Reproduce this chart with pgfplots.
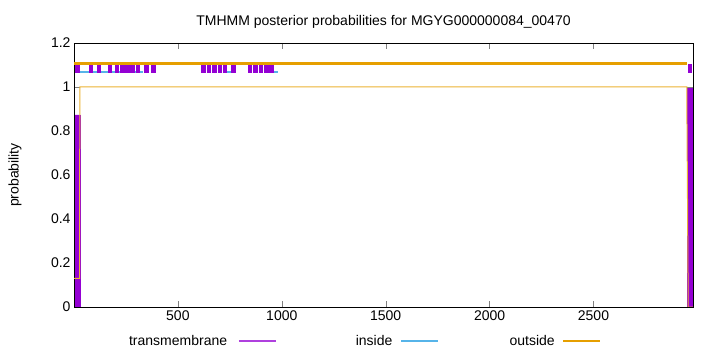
\documentclass[border=0pt]{standalone}
\usepackage{fontspec}
\setmainfont{Liberation Sans}
\usepackage{pgfplots}
\pgfplotsset{compat=1.18}
\definecolor{tm}{HTML}{9400D3}
\definecolor{inside}{HTML}{56B4E9}
\definecolor{outside}{HTML}{E69F00}
\begin{document}
\begin{tikzpicture}
\path[use as bounding box] (-74bp,-45bp) rectangle (646bp,307bp);
\begin{axis}[
  at={(0,0)}, anchor=south west,
  scale only axis, width=619bp, height=264bp,
  xmin=0, xmax=2979, ymin=0, ymax=1.2,
  xtick={500,1000,1500,2000,2500},
  ytick={0,0.2,0.4,0.6,0.8,1,1.2},
  yticklabels={0,0.2,0.4,0.6,0.8,1,1.2},
  /pgf/number format/1000 sep={},
  tick align=inside, major tick length=6bp,
  minor tick num=0,
  axis line style={black, line width=0.8bp},
  /pgf/number format/assume math mode=true,
  tick label style={font=\fontsize{14bp}{16bp}\selectfont},
  label style={font=\fontsize{14bp}{16bp}\selectfont},
  title style={font=\fontsize{14bp}{16bp}\selectfont, anchor=center, at={(axis description cs:0.5,1.057)}},
  title={TMHMM posterior probabilities for MGYG000000084\_00470},
  ylabel={probability},
  ylabel style={at={(axis description cs:-0.0953,0.5)}, anchor=center},
  unbounded coords=jump,
  legend columns=3,
  legend plot pos=right,
  legend cell align=right,
  legend image code/.code={\draw[#1] (0bp,0bp) -- (37bp,0bp);},
  legend style={draw=none, fill=none, font=\fontsize{14bp}{16bp}\selectfont,
    at={(axis description cs:0.4662,-0.129)}, anchor=center,
    /tikz/every even column/.append style={column sep=10bp}},
]
% top topology markers
\addplot[forget plot, inside, line width=2.5bp] coordinates {
  (5,1.068) (330,1.068) (nan,nan)
  (736,1.068) (756,1.068) (nan,nan)
  (962,1.068) (984,1.068)
};
\addplot[forget plot, tm, line width=9bp] coordinates {
  (5,1.086) (29,1.086) (nan,nan)
  (72,1.086) (91,1.086) (nan,nan)
  (111,1.086) (130,1.086) (nan,nan)
  (164,1.086) (183,1.086) (nan,nan)
  (197,1.086) (217,1.086) (nan,nan)
  (221,1.086) (294,1.086) (nan,nan)
  (298,1.086) (318,1.086) (nan,nan)
  (337,1.086) (361,1.086) (nan,nan)
  (371,1.086) (395,1.086) (nan,nan)
  (611,1.086) (635,1.086) (nan,nan)
  (640,1.086) (659,1.086) (nan,nan)
  (664,1.086) (688,1.086) (nan,nan)
  (693,1.086) (712,1.086) (nan,nan)
  (717,1.086) (736,1.086) (nan,nan)
  (756,1.086) (780,1.086) (nan,nan)
  (837,1.086) (857,1.086) (nan,nan)
  (861,1.086) (885,1.086) (nan,nan)
  (888,1.086) (909,1.086) (nan,nan)
  (914,1.086) (962,1.086) (nan,nan)
  (2955,1.086) (2975,1.086)
};
\addplot[forget plot, outside, line width=3bp] coordinates {
  (0,1.107) (2952,1.107)
};
% posterior probabilities
\addplot[forget plot, tm, fill=tm, line width=0.8bp] coordinates {
  (5,0) (5,0.873) (31,0.873) (31,0) (nan,nan)
  (2953,0) (2953,0.995) (2976,0.995) (2976,0)
};
\addplot[forget plot, inside, line width=0.8bp] coordinates {
  (1,0) (2979,0)
};
\addplot[forget plot, outside!80, line width=1bp] coordinates {
  (1,0.13) (27,0.13) (28,1.0) (2949,1.0) (2950,0.842) (2956,0) (2979,0)
};
\addlegendimage{color=tm!75, line width=1.3bp}
\addlegendentry{\makebox[110bp][r]{transmembrane\hspace*{9bp}}}
\addlegendimage{color=inside, line width=1.3bp}
\addlegendentry{\makebox[110bp][r]{inside\hspace*{6bp}}}
\addlegendimage{color=outside, line width=1.3bp}
\addlegendentry{\makebox[110bp][r]{outside\hspace*{6bp}}}
\end{axis}
\end{tikzpicture}
\end{document}
